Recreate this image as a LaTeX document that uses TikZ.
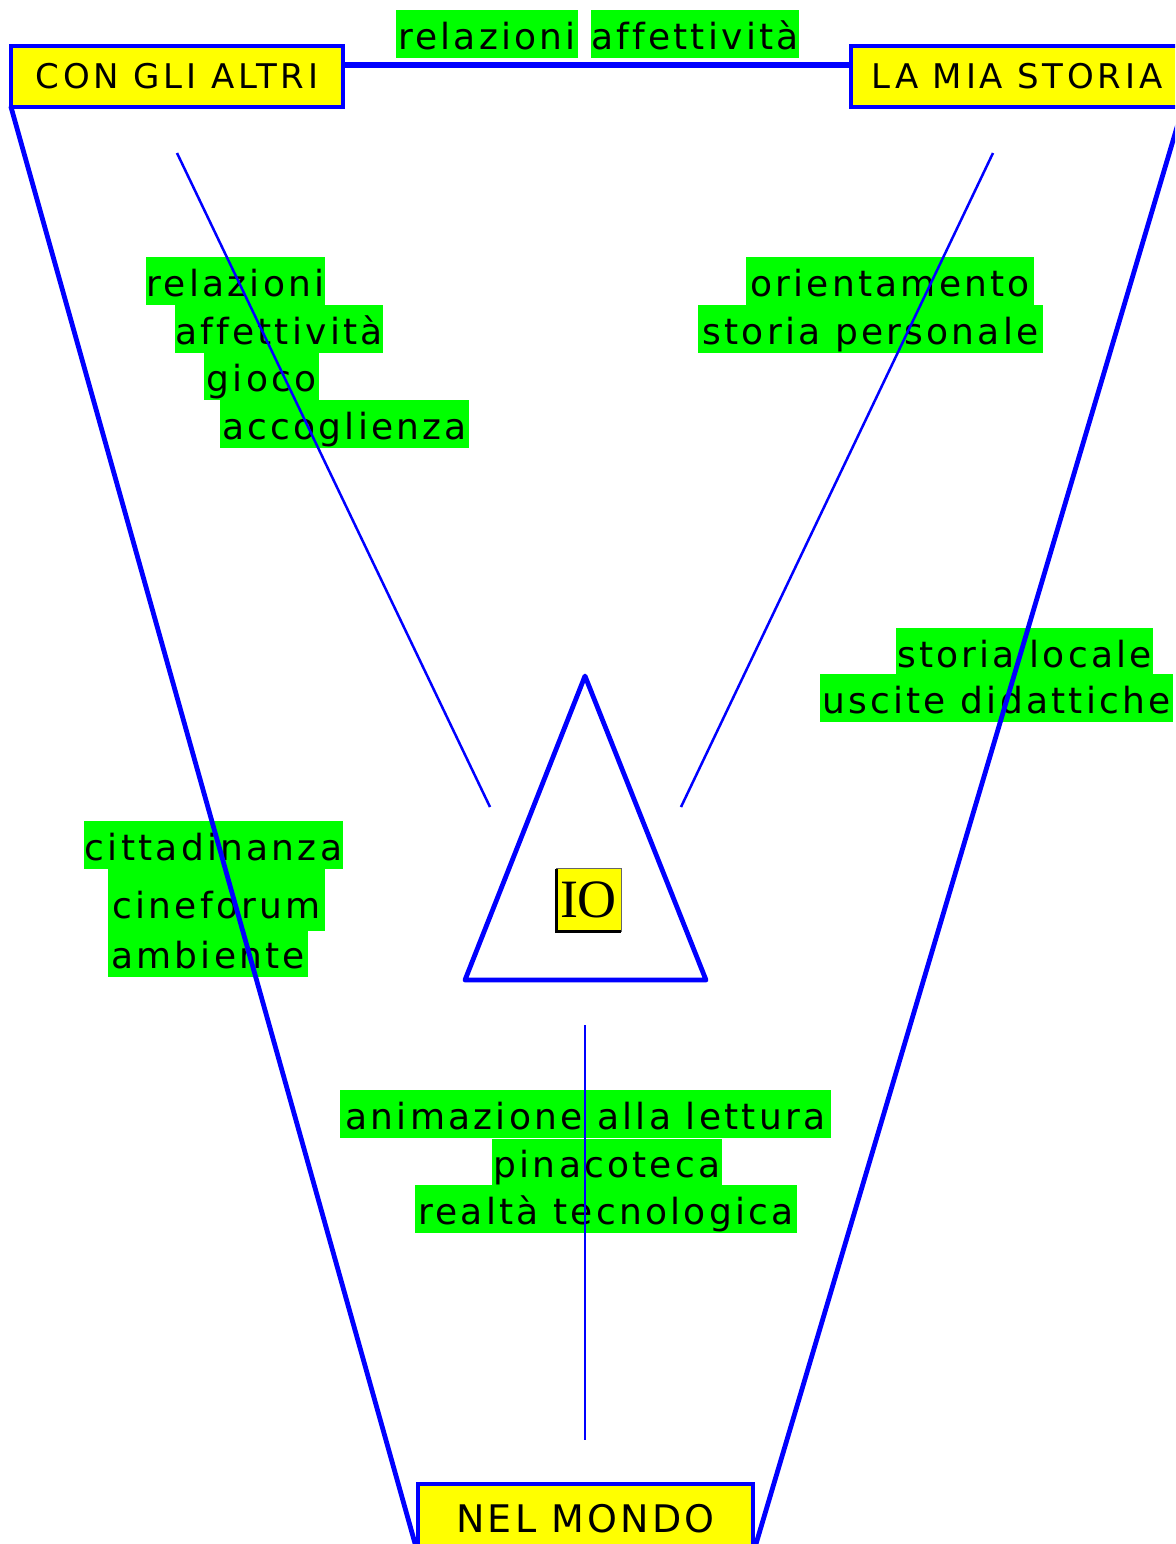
\documentclass[tikz,border=0pt]{standalone}
\usepackage{fontspec}
\newfontfamily\dv[LetterSpace=9,Ligatures=NoCommon]{DejaVu Sans}
\newfontfamily\dvh[LetterSpace=11,Ligatures=NoCommon]{DejaVu Sans}
\newfontfamily\dvm[LetterSpace=8.5,Ligatures=NoCommon]{DejaVu Sans}
\newfontfamily\lserif{Liberation Serif}
\definecolor{bblue}{HTML}{0000FF}
\definecolor{lgreen}{HTML}{00FF00}
\definecolor{yel}{HTML}{FFFF00}
\tikzset{
  lbl/.style={fill=lgreen, inner sep=0pt, outer sep=0pt, anchor=north west,
    text height=19.5pt, text depth=4.5pt, font=\dv\fontsize{18pt}{20pt}\selectfont},
  head/.style={draw=bblue, fill=yel, line width=2.3pt, inner sep=0pt, outer sep=0pt,
    minimum width=166pt, minimum height=30.5pt, text height=12.4pt, text depth=0pt,
    font=\dvh\fontsize{17pt}{20pt}\selectfont},
  thickln/.style={draw=bblue, line width=2.4pt, line cap=round, line join=round},
  thinln/.style={draw=bblue, line width=1.25pt},
}
\begin{document}
\begin{tikzpicture}[x=0.5pt,y=-0.5pt]
\useasboundingbox (0,0) rectangle (1175,1544);
\clip (0,0) rectangle (1175,1544);
% labels
\node[lbl, minimum width=91pt] (t1) at (396,10) {relazioni};
\node[lbl, minimum width=103pt] (t2) at (591,10) {affettività};
\node[lbl, minimum width=89.5pt] (l1) at (146,257) {relazioni};
\node[lbl, minimum width=103pt] (l2) at (175,305) {affettività};
\node[lbl, minimum width=57.5pt] (l3) at (204,352) {gioco};
\node[lbl, minimum width=124.5pt] (l4) at (220,400) {accoglienza};
\node[lbl, minimum width=144pt] (r1) at (746,257) {orientamento};
\node[lbl, minimum width=172.5pt] (r2) at (698,305) {storia personale};
\node[lbl, minimum width=128.5pt] (r3) at (896,628) {storia locale};
\node[lbl, minimum width=176.5pt] (r4) at (820,674) {uscite didattiche};
\node[lbl, minimum width=129.5pt] (c1) at (84,821) {cittadinanza};
\node[lbl, minimum width=108.5pt, text height=25.5pt, text depth=6.5pt] (c2) at (108,867) {cineforum};
\node[lbl, minimum width=100pt, text height=18.5pt, text depth=4.5pt] (c3) at (108,931) {ambiente};
\node[lbl, minimum width=245.5pt] (b1) at (340,1090) {animazione alla lettura};
\node[lbl, minimum width=115pt, text height=19pt, text depth=4pt] (b2) at (492,1139) {pinacoteca};
\node[lbl, minimum width=191pt] (b3) at (415,1185) {realtà tecnologica};
% IO
\node[fill=yel, inner sep=0pt, outer sep=0pt, minimum width=32.5pt, minimum height=31.5pt,
  text height=17.9pt, text depth=0pt, font=\lserif\fontsize{27pt}{30pt}\selectfont] (io) at (588.5,900) {IO};
\draw[black!60, line width=0.5pt] (io.north west) -- (io.north east) -- (io.south east);
\draw[black, line width=1.5pt] (io.north west) -- (io.south west) -- (io.south east);
% triangle
\coordinate (ta) at (585,676);
\coordinate (tl) at (465,980);
\coordinate (tr) at (706,980);
\draw[thickln] (ta) -- (tl) -- (tr) -- cycle;
% thin lines
\coordinate (a1) at (177,153); \coordinate (a2) at (490,807);
\coordinate (b1s) at (993,153); \coordinate (b2s) at (681,807);
\coordinate (c1s) at (585,1025); \coordinate (c2s) at (585,1440);
\draw[thinln] (a1) -- (a2);
\draw[thinln] (b1s) -- (b2s);
\draw[thinln] (c1s) -- (c2s);
% heading boxes
\node[head] (con) at (177,76.5) {CON GLI ALTRI};
\node[head] (mia) at (1017,76.5) {LA MIA STORIA};
\node[head, minimum width=167.5pt, minimum height=35pt, text height=13.9pt,
  font=\dvm\fontsize{19pt}{22pt}\selectfont] (mondo) at (585.5,1519) {NEL MONDO};
% big lines
\draw[thickln] (con.south west) -- (mondo.south west);
\draw[thickln] (mia.south east) -- (mondo.south east);
\coordinate (lv) at (0,65);
\draw[bblue, line width=2.8pt] (con.east |- lv) -- (mia.west |- lv);
\end{tikzpicture}
\end{document}
